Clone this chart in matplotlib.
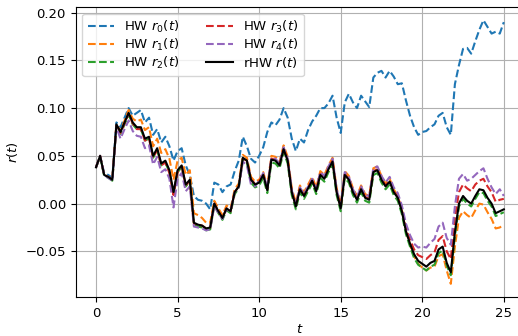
import numpy as np
import matplotlib
matplotlib.use("Agg")
import matplotlib.pyplot as plt

# time grid (step 0.25 from 0 to 25)
t = np.arange(101) * 0.25

# HW r0(t)
r0 = [0.038, 0.050, 0.032, 0.030, 0.027, 0.085, 0.080, 0.090, 0.100, 0.092,
      0.095, 0.098, 0.085, 0.090, 0.072, 0.078, 0.064, 0.070, 0.060, 0.045,
      0.055, 0.058, 0.040, 0.030, 0.008, 0.004, 0.003, 0.000, -0.006, 0.022,
      0.020, 0.012, 0.018, 0.020, 0.034, 0.045, 0.070, 0.060, 0.047, 0.043,
      0.050, 0.059, 0.075, 0.085, 0.082, 0.088, 0.100, 0.090, 0.068, 0.055,
      0.068, 0.064, 0.077, 0.086, 0.092, 0.100, 0.100, 0.105, 0.113, 0.090,
      0.074, 0.106, 0.115, 0.106, 0.100, 0.113, 0.107, 0.101, 0.132, 0.137,
      0.139, 0.132, 0.139, 0.133, 0.125, 0.126, 0.108, 0.092, 0.080, 0.072,
      0.075, 0.076, 0.080, 0.083, 0.092, 0.095, 0.080, 0.072, 0.125, 0.145,
      0.162, 0.163, 0.157, 0.170, 0.182, 0.192, 0.185, 0.178, 0.180, 0.178,
      0.190]

# HW r1(t)
r1 = [0.038, 0.050, 0.030, 0.028, 0.025, 0.083, 0.076, 0.087, 0.098, 0.089,
      0.086, 0.088, 0.077, 0.080, 0.060, 0.068, 0.053, 0.057, 0.047, 0.025,
      0.045, 0.048, 0.030, 0.035, -0.010, -0.012, -0.015, -0.020, -0.020, 0.003,
      -0.005, -0.012, -0.002, -0.005, 0.015, 0.021, 0.051, 0.048, 0.028, 0.023,
      0.025, 0.033, 0.018, 0.050, 0.049, 0.044, 0.061, 0.049, 0.016, 0.001,
      0.019, 0.012, 0.020, 0.028, 0.017, 0.034, 0.030, 0.040, 0.048, 0.016,
      -0.001, 0.034, 0.029, 0.016, 0.008, 0.019, 0.010, 0.008, 0.037, 0.039,
      0.029, 0.021, 0.026, 0.015, 0.008, -0.007, -0.029, -0.043, -0.055, -0.063,
      -0.067, -0.070, -0.067, -0.066, -0.055, -0.053, -0.070, -0.084, -0.045, -0.015,
      -0.008, -0.012, -0.015, -0.007, 0.000, -0.001, -0.009, -0.016, -0.026, -0.025,
      -0.022]

# HW r2(t)
r2 = [0.038, 0.049, 0.029, 0.027, 0.024, 0.081, 0.073, 0.083, 0.093, 0.083,
      0.078, 0.078, 0.066, 0.068, 0.048, 0.056, 0.040, 0.043, 0.033, 0.010,
      0.033, 0.038, 0.018, 0.023, -0.022, -0.024, -0.025, -0.028, -0.027, -0.002,
      -0.010, -0.017, -0.007, -0.010, 0.010, 0.016, 0.046, 0.043, 0.022, 0.017,
      0.019, 0.027, 0.011, 0.043, 0.042, 0.037, 0.054, 0.042, 0.009, -0.006,
      0.012, 0.005, 0.013, 0.021, 0.010, 0.027, 0.023, 0.033, 0.041, 0.009,
      -0.008, 0.027, 0.022, 0.009, 0.001, 0.012, 0.003, 0.001, 0.030, 0.032,
      0.022, 0.015, 0.020, 0.009, 0.003, -0.011, -0.032, -0.045, -0.057, -0.064,
      -0.067, -0.070, -0.066, -0.064, -0.052, -0.049, -0.065, -0.075, -0.034, -0.003,
      0.005, 0.000, -0.003, 0.005, 0.012, 0.011, 0.003, -0.003, -0.013, -0.011,
      -0.009]

# HW r3(t)
r3 = [0.038, 0.050, 0.030, 0.028, 0.025, 0.083, 0.074, 0.084, 0.094, 0.084,
      0.078, 0.078, 0.066, 0.068, 0.048, 0.056, 0.040, 0.043, 0.032, 0.009,
      0.033, 0.039, 0.019, 0.024, -0.021, -0.022, -0.023, -0.026, -0.025, 0.000,
      -0.008, -0.015, -0.005, -0.008, 0.012, 0.018, 0.047, 0.045, 0.025, 0.021,
      0.023, 0.031, 0.015, 0.047, 0.046, 0.041, 0.058, 0.046, 0.013, -0.002,
      0.016, 0.009, 0.017, 0.025, 0.014, 0.031, 0.027, 0.037, 0.045, 0.013,
      -0.004, 0.031, 0.026, 0.013, 0.005, 0.016, 0.007, 0.005, 0.034, 0.036,
      0.026, 0.019, 0.024, 0.013, 0.007, -0.006, -0.026, -0.038, -0.048, -0.054,
      -0.056, -0.058, -0.054, -0.051, -0.038, -0.034, -0.050, -0.058, -0.015, 0.012,
      0.020, 0.016, 0.013, 0.020, 0.024, 0.026, 0.018, 0.012, 0.002, 0.004,
      0.005]

# HW r4(t)
r4 = [0.038, 0.050, 0.030, 0.027, 0.024, 0.080, 0.068, 0.078, 0.087, 0.076,
      0.071, 0.070, 0.058, 0.061, 0.041, 0.049, 0.033, 0.036, 0.026, -0.004,
      0.026, 0.032, 0.013, 0.018, -0.024, -0.025, -0.026, -0.028, -0.027, -0.002,
      -0.010, -0.016, -0.006, -0.008, 0.012, 0.017, 0.044, 0.040, 0.020, 0.018,
      0.024, 0.032, 0.016, 0.048, 0.047, 0.042, 0.059, 0.047, 0.014, -0.001,
      0.017, 0.010, 0.018, 0.026, 0.016, 0.033, 0.029, 0.039, 0.047, 0.015,
      -0.002, 0.033, 0.028, 0.015, 0.007, 0.018, 0.009, 0.008, 0.037, 0.039,
      0.029, 0.022, 0.028, 0.017, 0.011, -0.002, -0.021, -0.033, -0.042, -0.046,
      -0.045, -0.046, -0.041, -0.037, -0.024, -0.020, -0.036, -0.043, -0.003, 0.026,
      0.031, 0.024, 0.026, 0.030, 0.034, 0.037, 0.026, 0.017, 0.010, 0.015,
      0.008]

# rHW r(t)
r_rhw = [0.038, 0.050, 0.030, 0.028, 0.025, 0.083, 0.075, 0.085, 0.095, 0.085,
         0.080, 0.080, 0.068, 0.070, 0.050, 0.058, 0.042, 0.045, 0.035, 0.012,
         0.035, 0.040, 0.020, 0.025, -0.020, -0.022, -0.023, -0.026, -0.025, 0.000,
         -0.008, -0.015, -0.005, -0.008, 0.012, 0.018, 0.048, 0.045, 0.025, 0.020,
         0.022, 0.030, 0.014, 0.046, 0.045, 0.040, 0.057, 0.045, 0.012, -0.003,
         0.015, 0.008, 0.016, 0.024, 0.013, 0.030, 0.026, 0.036, 0.044, 0.012,
         -0.005, 0.030, 0.025, 0.012, 0.004, 0.015, 0.006, 0.004, 0.033, 0.035,
         0.025, 0.018, 0.023, 0.012, 0.006, -0.008, -0.029, -0.042, -0.053, -0.060,
         -0.063, -0.066, -0.062, -0.060, -0.048, -0.045, -0.062, -0.072, -0.030, 0.000,
         0.008, 0.003, 0.000, 0.008, 0.015, 0.014, 0.006, 0.000, -0.010, -0.008,
         -0.006]

hw_paths = [r0, r1, r2, r3, r4]

plt.rcParams["font.size"] = 9.5

fig = plt.figure(figsize=(5.18, 3.36), dpi=100)
ax = fig.add_axes([0.146, 0.116, 0.866, 0.863])

for i, path in enumerate(hw_paths):
    ax.plot(t, path, "--", color=f"C{i}", lw=1.5, label=f"HW $r_{i}(t)$")
ax.plot(t, r_rhw, "-", color="black", lw=1.5, label="rHW $r(t)$")

ax.set_xlabel("$t$", labelpad=2)
ax.set_ylabel("$r(t)$")
ax.grid(True)
ax.legend(loc="upper left", ncol=2, labelspacing=0.15, columnspacing=2.0,
          handlelength=2.0, borderpad=0.4)

fig.savefig("out.png", dpi=100)
